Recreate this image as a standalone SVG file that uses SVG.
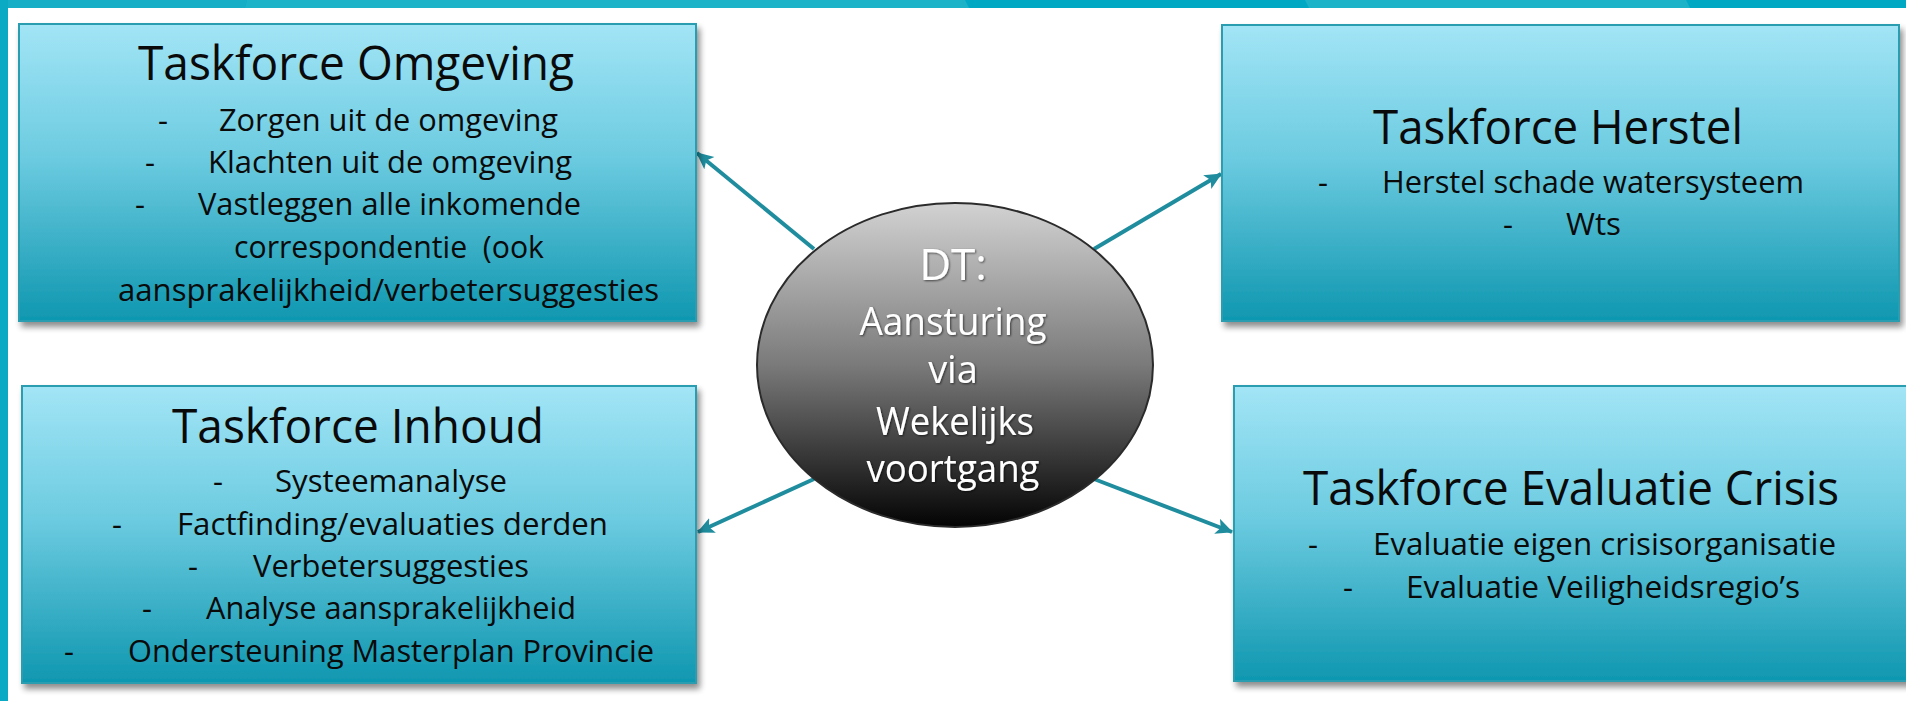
<svg xmlns="http://www.w3.org/2000/svg" width="1906" height="701" viewBox="0 0 1906 701">
<defs>
<linearGradient id="boxGrad" x1="0" y1="0" x2="0" y2="1">
<stop offset="0" stop-color="#a2e5f6"/>
<stop offset="0.45" stop-color="#6ccbe0"/>
<stop offset="1" stop-color="#0f97b0"/>
</linearGradient>
<linearGradient id="ellGrad" x1="0" y1="0" x2="0" y2="1">
<stop offset="0" stop-color="#d2d2d2"/>
<stop offset="0.5" stop-color="#7a7a7a"/>
<stop offset="1" stop-color="#030303"/>
</linearGradient>
<filter id="shadow" x="-5%" y="-5%" width="115%" height="120%">
<feGaussianBlur in="SourceAlpha" stdDeviation="3"/>
<feOffset dx="3" dy="5" result="b"/>
<feComponentTransfer><feFuncA type="linear" slope="0.45"/></feComponentTransfer>
<feMerge><feMergeNode/><feMergeNode in="SourceGraphic"/></feMerge>
</filter>
<filter id="txtShadow" x="-10%" y="-20%" width="120%" height="140%">
<feGaussianBlur in="SourceAlpha" stdDeviation="1"/>
<feOffset dx="1" dy="1"/>
<feComponentTransfer><feFuncA type="linear" slope="0.6"/></feComponentTransfer>
<feMerge><feMergeNode/><feMergeNode in="SourceGraphic"/></feMerge>
</filter>
<marker id="arrow" markerUnits="userSpaceOnUse" markerWidth="20" markerHeight="18" refX="16" refY="8" orient="auto">
<path d="M0,0 L17,8 L0,16 L4,8 Z" fill="#1f8d9e"/>
</marker>
<style>
.box{fill:url(#boxGrad);stroke:#2a9eb0;stroke-width:2;filter:url(#shadow);}
.title{font-family:"Open Sans","Noto Sans",sans-serif;font-size:47px;fill:#0a0a0a;}
.item{font-family:"Open Sans","Noto Sans",sans-serif;font-size:31px;fill:#0a0a0a;}
.ctext{font-family:"Open Sans","Noto Sans",sans-serif;font-size:38px;fill:#ffffff;text-anchor:middle;filter:url(#txtShadow);}
.conn{stroke:#1f8d9e;stroke-width:4;fill:none;marker-end:url(#arrow);}
</style>
</defs>
<rect x="0" y="0" width="1906" height="701" fill="#ffffff"/>
<g id="frame">
<rect x="0" y="0" width="1906" height="8" fill="#00a8c3"/>
<polygon points="0,0 247,0 245,8 0,8" fill="#15aec6"/>
<polygon points="247,0 965,0 969,8 245,8" fill="#1cb3c9"/>
<polygon points="1305,0 1686,0 1690,8 1309,8" fill="#1cb3c9"/>
<rect x="0" y="0" width="8" height="701" fill="#0aa9c4"/>
</g>
<g id="connectors">
<line class="conn" x1="814" y1="249" x2="697" y2="153"/>
<line class="conn" x1="1094" y1="249" x2="1221" y2="174"/>
<line class="conn" x1="814" y1="479" x2="698" y2="532"/>
<line class="conn" x1="1094" y1="479" x2="1232" y2="532"/>
</g>
<g id="node-omgeving">
<rect class="box" x="19" y="24" width="677" height="297"/>
<text class="title" x="138" y="80" textLength="436" lengthAdjust="spacingAndGlyphs">Taskforce Omgeving</text>
<text class="item" y="131"><tspan x="158">-</tspan><tspan x="219" textLength="339" lengthAdjust="spacingAndGlyphs">Zorgen uit de omgeving</tspan></text>
<text class="item" y="173"><tspan x="145">-</tspan><tspan x="208" textLength="364" lengthAdjust="spacingAndGlyphs">Klachten uit de omgeving</tspan></text>
<text class="item" y="215"><tspan x="135">-</tspan><tspan x="198" textLength="383" lengthAdjust="spacingAndGlyphs">Vastleggen alle inkomende</tspan></text>
<text class="item" x="234" y="258" textLength="310" lengthAdjust="spacingAndGlyphs" xml:space="preserve">correspondentie  (ook</text>
<text class="item" x="118" y="301" textLength="541" lengthAdjust="spacingAndGlyphs">aansprakelijkheid/verbetersuggesties</text>
</g>
<g id="node-inhoud">
<rect class="box" x="22" y="386" width="674" height="297"/>
<text class="title" x="172" y="443" textLength="372" lengthAdjust="spacingAndGlyphs">Taskforce Inhoud</text>
<text class="item" y="492"><tspan x="213">-</tspan><tspan x="275" textLength="232" lengthAdjust="spacingAndGlyphs">Systeemanalyse</tspan></text>
<text class="item" y="535"><tspan x="112">-</tspan><tspan x="177" textLength="431" lengthAdjust="spacingAndGlyphs">Factfinding/evaluaties derden</tspan></text>
<text class="item" y="577"><tspan x="188">-</tspan><tspan x="253" textLength="276" lengthAdjust="spacingAndGlyphs">Verbetersuggesties</tspan></text>
<text class="item" y="619"><tspan x="142">-</tspan><tspan x="206" textLength="370" lengthAdjust="spacingAndGlyphs">Analyse aansprakelijkheid</tspan></text>
<text class="item" y="662"><tspan x="64">-</tspan><tspan x="128" textLength="526" lengthAdjust="spacingAndGlyphs">Ondersteuning Masterplan Provincie</tspan></text>
</g>
<g id="node-herstel">
<rect class="box" x="1222" y="25" width="677" height="296"/>
<text class="title" x="1373" y="144" textLength="370" lengthAdjust="spacingAndGlyphs">Taskforce Herstel</text>
<text class="item" y="193"><tspan x="1318">-</tspan><tspan x="1382" textLength="422" lengthAdjust="spacingAndGlyphs">Herstel schade watersysteem</tspan></text>
<text class="item" y="235"><tspan x="1503">-</tspan><tspan x="1566" textLength="55" lengthAdjust="spacingAndGlyphs">Wts</tspan></text>
</g>
<g id="node-evaluatie">
<rect class="box" x="1234" y="386" width="690" height="295"/>
<text class="title" x="1303" y="505" textLength="536" lengthAdjust="spacingAndGlyphs">Taskforce Evaluatie Crisis</text>
<text class="item" y="555"><tspan x="1308">-</tspan><tspan x="1373" textLength="463" lengthAdjust="spacingAndGlyphs">Evaluatie eigen crisisorganisatie</tspan></text>
<text class="item" y="598"><tspan x="1343">-</tspan><tspan x="1406" textLength="394" lengthAdjust="spacingAndGlyphs">Evaluatie Veiligheidsregio’s</tspan></text>
</g>
<g id="node-dt">
<ellipse cx="955" cy="365" rx="198" ry="162" fill="url(#ellGrad)" stroke="#2b2b2b" stroke-width="2"/>
<text class="ctext" x="953" y="280" style="font-size:44px">DT:</text>
<text class="ctext" x="953" y="335" textLength="187" lengthAdjust="spacingAndGlyphs">Aansturing</text>
<text class="ctext" x="953" y="383">via</text>
<text class="ctext" x="955" y="435" textLength="158" lengthAdjust="spacingAndGlyphs">Wekelijks</text>
<text class="ctext" x="953" y="482" textLength="173" lengthAdjust="spacingAndGlyphs">voortgang</text>
</g>
</svg>
